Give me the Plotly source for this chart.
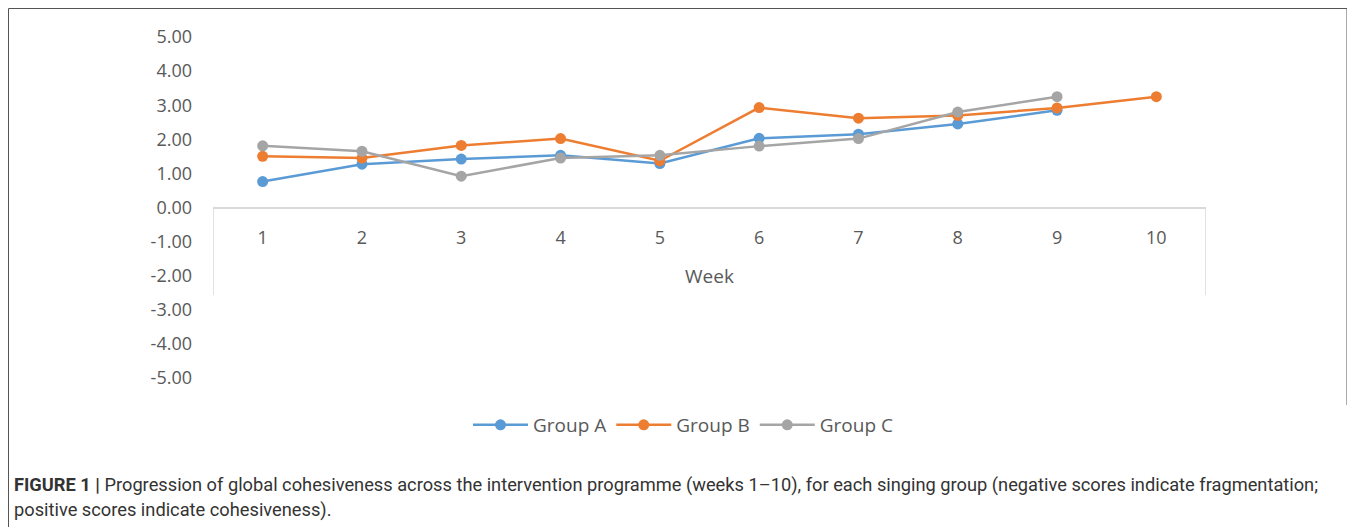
import plotly.graph_objects as go

weeks = [1, 2, 3, 4, 5, 6, 7, 8, 9, 10]
week_labels = ["1", "2", "3", "4", "5", "6", "7", "8", "9", "10"]
group_a = [0.76, 1.27, 1.42, 1.53, 1.29, 2.03, 2.15, 2.45, 2.85, None]
group_b = [1.50, 1.45, 1.82, 2.02, 1.37, 2.93, 2.62, 2.70, 2.92, 3.25]
group_c = [1.81, 1.65, 0.92, 1.45, 1.53, 1.80, 2.02, 2.80, 3.25, None]
series_names = ["Group A", "Group B", "Group C"]
colors = ["#5B9BD5", "#ED7D31", "#A5A5A5"]
y_ticks = [5, 4, 3, 2, 1, 0, -1, -2, -3, -4, -5]
y_tick_labels = ["5.00", "4.00", "3.00", "2.00", "1.00", "0.00",
                 "-1.00", "-2.00", "-3.00", "-4.00", "-5.00"]

OFF = 8  # page body margin
W, H = 1355 - OFF, 527 - OFF
L, T = 213 - OFF, 37 - OFF
PW, PH = 993, 341
R, B = W - L - PW, H - T - PH


def px(x):
    return (x - OFF - L) / PW


def py(y):
    return (T + PH - (y - OFF)) / PH


fig = go.Figure()
for name, vals, col in zip(series_names, [group_a, group_b, group_c], colors):
    fig.add_trace(go.Scatter(
        x=weeks, y=vals, name=name, mode="lines+markers",
        line=dict(color=col, width=2.5),
        marker=dict(color=col, size=11),
        connectgaps=False,
    ))

axis_font = dict(family="Open Sans, sans-serif", size=18, color="#595959")

fig.update_layout(
    width=W, height=H,
    margin=dict(l=L, r=R, t=T, b=B, pad=0),
    plot_bgcolor="white", paper_bgcolor="white",
    showlegend=True,
    legend=dict(orientation="h", x=px(683), xanchor="center",
                y=py(425), yanchor="middle",
                font=dict(family="Open Sans, sans-serif", size=19, color="#595959"),
                itemwidth=55, tracegroupgap=0),
    xaxis=dict(range=[0.5, 10.5], tickvals=weeks, ticktext=week_labels,
               anchor="free", position=0.5, showline=True, linecolor="#D9D9D9",
               linewidth=1.5, showgrid=False, zeroline=False, ticks="",
               ticklabelstandoff=14, tickfont=axis_font,
               title=dict(text="Week", font=dict(family="Open Sans, sans-serif", size=19, color="#595959"), standoff=21)),
    yaxis=dict(range=[-5, 5], tickvals=y_ticks, ticktext=y_tick_labels,
               showgrid=False, zeroline=False, showline=False, ticks="",
               ticklabelstandoff=20, tickfont=axis_font),
)

# axis box sides (Excel-style)
for xv in [0.5, 10.5]:
    fig.add_shape(type="line", xref="x", yref="y", x0=xv, x1=xv, y0=0, y1=-2.57,
                  line=dict(color="#D9D9D9", width=1.5))

# outer figure border
border = dict(color="#555555", width=1)
fig.add_shape(type="line", xref="paper", yref="paper", x0=px(8.5), x1=px(1347), y0=py(8.5), y1=py(8.5), line=border)
fig.add_shape(type="line", xref="paper", yref="paper", x0=px(8.5), x1=px(8.5), y0=py(8.5), y1=py(527), line=border)
fig.add_shape(type="line", xref="paper", yref="paper", x0=px(1347), x1=px(1347), y0=py(8.5), y1=py(405), line=border)

cap_font = dict(family="Roboto, sans-serif", size=18.25, color="#333333")
fig.add_annotation(xref="paper", yref="paper", x=px(12), y=py(485), xanchor="left", yanchor="middle",
                   showarrow=False, font=cap_font, align="left",
                   text="<b>FIGURE 1 |</b> Progression of global cohesiveness across the intervention programme (weeks 1–10), for each singing group (negative scores indicate fragmentation;")
fig.add_annotation(xref="paper", yref="paper", x=px(12), y=py(510), xanchor="left", yanchor="middle",
                   showarrow=False, font=cap_font, align="left",
                   text="positive scores indicate cohesiveness).")

fig.write_html("out.html")
